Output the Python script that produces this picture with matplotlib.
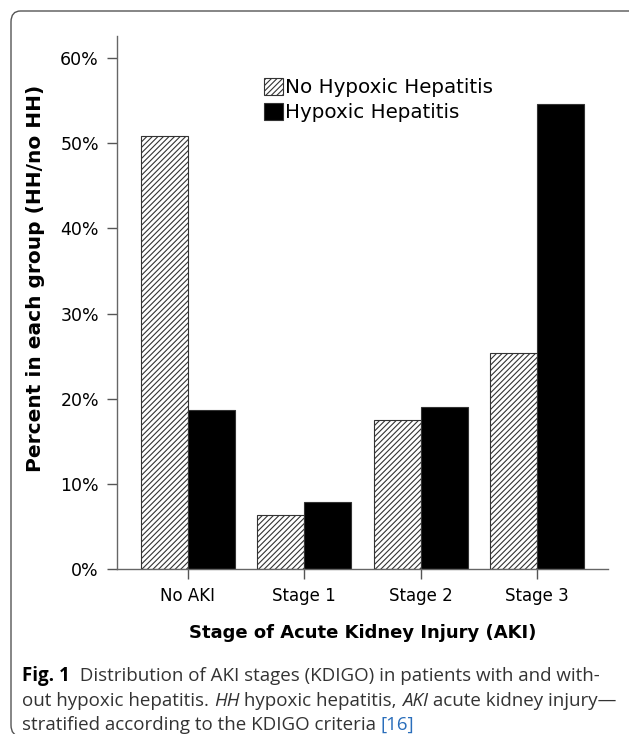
import matplotlib
matplotlib.use("Agg")
import matplotlib.pyplot as plt
import numpy as np
from matplotlib.patches import FancyBboxPatch, Patch

# data
stages = ["No AKI", "Stage 1", "Stage 2", "Stage 3"]
no_hh = [50.8, 6.4, 17.5, 25.4]
hh = [18.7, 7.9, 19.0, 54.6]
yticks = [0, 10, 20, 30, 40, 50, 60]

plt.rcParams["hatch.linewidth"] = 0.8

W, H = 629, 734
fig = plt.figure(figsize=(W / 100, H / 100), dpi=100)

# rounded frame around figure + caption (right and bottom edges run off the page)
frame = FancyBboxPatch((11 / W, 1 - 736 / H), 640 / W, 725 / H,
                       boxstyle="round,pad=0,rounding_size=0.015",
                       transform=fig.transFigure, facecolor="none",
                       edgecolor="#555555", linewidth=1.0)
fig.patches.append(frame)

ax = fig.add_axes([117 / W, 1 - 569 / H, (608 - 117) / W, (569 - 36) / H])

x = np.arange(len(stages))
w = 0.404
ax.bar(x - w / 2, no_hh, w, color="white", edgecolor="#333333",
       hatch="//////", linewidth=0.8, label="No Hypoxic Hepatitis")
ax.bar(x + w / 2, hh, w, color="black", edgecolor="#333333",
       linewidth=0.8, label="Hypoxic Hepatitis")

ax.set_xlim(-0.61, 3.61)
ax.set_ylim(0, 62.6)
ax.set_yticks(yticks)
ax.set_yticklabels([f"{t}%" for t in yticks], fontsize=12.5)
ax.set_xticks(x)
ax.set_xticklabels(stages, fontsize=12)
ax.tick_params(axis="both", length=7, width=1, color="#555555", pad=6)
for s in ["top", "right"]:
    ax.spines[s].set_visible(False)
for s in ["left", "bottom"]:
    ax.spines[s].set_color("#666666")
    ax.spines[s].set_linewidth(1)

ax.set_xlabel("Stage of Acute Kidney Injury (AKI)", fontsize=13,
              fontweight="bold", labelpad=14)
ax.set_ylabel("Percent in each group (HH/no HH)", fontsize=14.5,
              fontweight="bold")
ax.yaxis.set_label_coords(-0.147, 0.546)

handles = [Patch(facecolor="white", edgecolor="#333333", hatch="//////", linewidth=0.8),
           Patch(facecolor="black", edgecolor="#333333", linewidth=0.8)]
ax.legend(handles, ["No Hypoxic Hepatitis", "Hypoxic Hepatitis"],
          loc="upper left", bbox_to_anchor=(264 / W, 1 - 78 / H),
          bbox_transform=fig.transFigure, frameon=False, fontsize=14.3,
          handlelength=0.95, handleheight=0.95, handletextpad=0.1,
          labelspacing=0.28, borderpad=0, borderaxespad=0)

# caption, drawn run by run
cap_font = "Open Sans"
cap_size = 13.5
cap_color = "#333333"
fig.canvas.draw()
renderer = fig.canvas.get_renderer()


def runs(line, y):
    xp = 22
    for txt, style in line:
        kw = dict(fontsize=cap_size, family=cap_font, color=cap_color,
                  va="center", ha="left")
        if style == "b":
            kw.update(fontweight="bold", color="black")
        elif style == "i":
            kw.update(style="italic")
        elif style == "link":
            kw.update(color="#2a6ebb")
        t = fig.text(xp / W, 1 - y / H, txt, **kw)
        bb = t.get_window_extent(renderer=renderer)
        xp += bb.width


runs([("Fig. 1", "b"), ("  Distribution of AKI stages (KDIGO) in patients with and with-", "")], 676)
runs([("out hypoxic hepatitis. ", ""), ("HH", "i"), (" hypoxic hepatitis, ", ""),
      ("AKI", "i"), (" acute kidney injury\u2014", "")], 701)
runs([("stratified according to the KDIGO criteria ", ""), ("[16]", "link")], 725)

fig.savefig("out.png", dpi=100)
